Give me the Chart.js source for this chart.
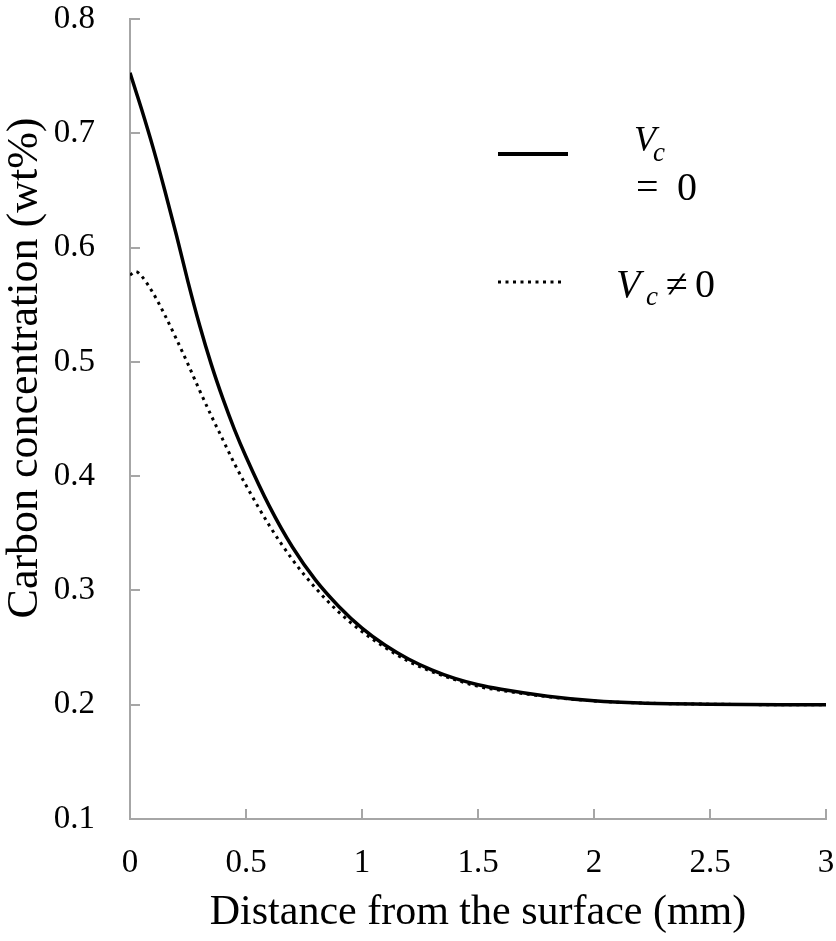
<!DOCTYPE html>
<html>
<head>
<meta charset="utf-8">
<script src="https://cdn.jsdelivr.net/npm/chart.js@4.4.1/dist/chart.umd.min.js"></script>
<style>
  html, body { margin: 0; padding: 0; background: #fff; }
  #wrap { width: 836px; height: 941px; }
</style>
</head>
<body>
<div id="wrap"><canvas id="carbon"></canvas></div>
<script>
// distancia desde la superficie (mm)
const distancia = [0, 0.025, 0.05, 0.1, 0.15, 0.2, 0.25, 0.3, 0.35, 0.4, 0.45, 0.5, 0.6, 0.7, 0.8, 0.9,
  1.0, 1.1, 1.2, 1.3, 1.4, 1.5, 1.6, 1.8, 2.0, 2.2, 2.5, 2.8, 3.0]
// Vc = 0
const carbonoVc0 = [0.753, 0.737, 0.721, 0.687, 0.650, 0.611, 0.570, 0.532, 0.498, 0.468, 0.441, 0.417,
  0.374, 0.338, 0.309, 0.286, 0.267, 0.252, 0.240, 0.2305, 0.223, 0.2175, 0.2135, 0.2075, 0.2035, 0.2015,
  0.2005, 0.2, 0.2]
// Vc != 0
const carbonoVc = [0.576, 0.579, 0.575, 0.560, 0.541, 0.520, 0.498, 0.475, 0.453, 0.432, 0.411, 0.392,
  0.357, 0.327, 0.302, 0.281, 0.264, 0.250, 0.238, 0.229, 0.222, 0.216, 0.2125, 0.207, 0.2033, 0.2015,
  0.2005, 0.2, 0.2]
const ejeX = { min: 0, max: 3, paso: 0.5 }
const ejeY = { min: 0.1, max: 0.8, paso: 0.1 }

const serif = 'Liberation Serif'
const gris = '#a6a6a6'

const puntos = (ys) => distancia.map((x, i) => ({ x: x, y: ys[i] }))
const etiqueta = (v) => String(+v.toFixed(1))

// titulo del eje y y leyenda dibujados a mano (texto con subindices)
const extras = {
    id: 'extras',
    afterDraw(chart) {
        const ctx = chart.ctx
        ctx.save()
        ctx.fillStyle = '#000'
        // titulo eje y
        ctx.translate(25, 368)
        ctx.rotate(-Math.PI / 2)
        ctx.font = '44px "' + serif + '"'
        ctx.textAlign = 'center'
        ctx.textBaseline = 'middle'
        ctx.fillText('Carbon concentration (wt%)', 0, 0)
        ctx.restore()

        ctx.save()
        ctx.strokeStyle = '#000'
        ctx.fillStyle = '#000'
        ctx.lineWidth = 4
        ctx.beginPath()
        ctx.moveTo(498, 154)
        ctx.lineTo(568, 154)
        ctx.stroke()
        ctx.lineWidth = 3
        ctx.setLineDash([3, 4.5])
        ctx.beginPath()
        ctx.moveTo(498, 282)
        ctx.lineTo(565, 282)
        ctx.stroke()
        ctx.setLineDash([])

        ctx.textAlign = 'left'
        ctx.textBaseline = 'alphabetic'
        // V_c = 0 (en dos lineas)
        ctx.font = 'italic 36px "' + serif + '"'
        ctx.fillText('V', 634, 151)
        ctx.font = 'italic 27px "' + serif + '"'
        ctx.fillText('c', 653, 161)
        ctx.font = '40px "' + serif + '"'
        ctx.fillText('=', 636, 200)
        ctx.fillText('0', 677, 200)
        // V_c ≠ 0
        ctx.font = 'italic 40px "' + serif + '"'
        ctx.fillText('V', 616, 297)
        ctx.font = 'italic 27px "' + serif + '"'
        ctx.fillText('c', 646, 305)
        ctx.font = '40px "' + serif + '"'
        ctx.fillText('\u2260', 666, 297)
        ctx.fillText('0', 695, 297)
        ctx.restore()
    }
}

new Chart(document.getElementById('carbon'), {
    type: 'line',
    data: {
        datasets: [{
            label: 'Vc = 0',
            data: puntos(carbonoVc0),
            borderColor: '#000',
            borderWidth: 3.5,
            pointRadius: 0,
            cubicInterpolationMode: 'monotone'
        }, {
            label: 'Vc \u2260 0',
            data: puntos(carbonoVc),
            borderColor: '#000',
            borderWidth: 3,
            borderDash: [3, 4.5],
            pointRadius: 0,
            cubicInterpolationMode: 'monotone'
        }]
    },
    options: {
        responsive: true,
        maintainAspectRatio: false,
        animation: false,
        layout: { padding: 0 },
        plugins: {
            legend: { display: false },
            tooltip: { enabled: false }
        },
        scales: {
            x: {
                type: 'linear',
                min: ejeX.min,
                max: ejeX.max,
                afterFit: (s) => { s.height = 122; s.paddingLeft = 0; s.paddingRight = 10 },
                ticks: { stepSize: ejeX.paso, color: '#000', padding: 35, callback: etiqueta,
                    font: { family: serif, size: 33 } },
                grid: { drawOnChartArea: false, tickLength: -10, color: gris, lineWidth: 2 },
                border: { color: gris, width: 2 },
                title: {
                    display: true,
                    text: 'Distance from the surface (mm)',
                    color: '#000',
                    font: { family: serif, size: 42 },
                    padding: { top: 0, bottom: 3 }
                }
            },
            y: {
                min: ejeY.min,
                max: ejeY.max,
                afterFit: (s) => { s.width = 130; s.paddingTop = 19; s.paddingBottom = 0 },
                ticks: { stepSize: ejeY.paso, color: '#000', padding: 45, callback: etiqueta,
                    font: { family: serif, size: 33 } },
                grid: { drawOnChartArea: false, tickLength: -10, color: gris, lineWidth: 2 },
                border: { color: gris, width: 2 }
            }
        }
    },
    plugins: [extras]
});
</script>
</body>
</html>
